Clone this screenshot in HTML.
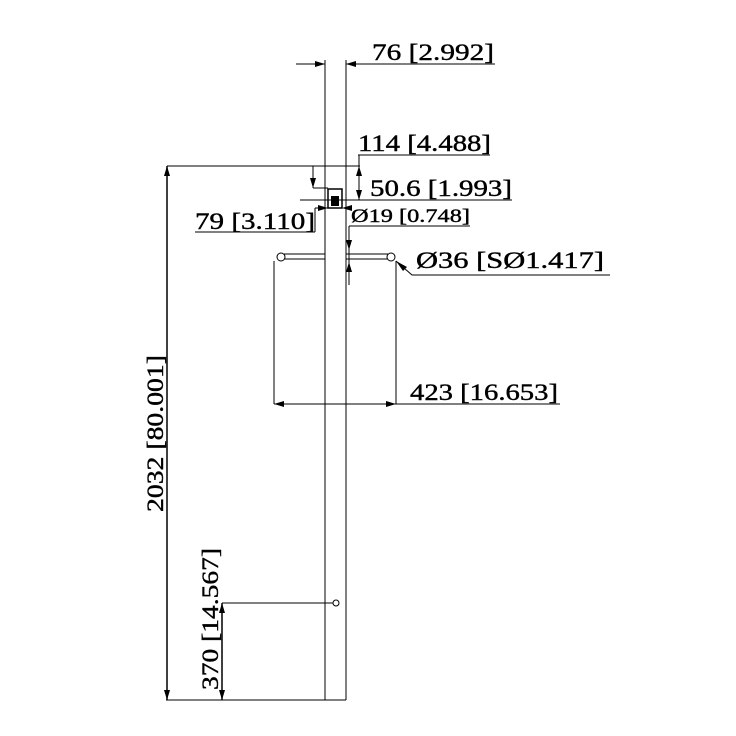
<!DOCTYPE html>
<html><head><style>html,body{margin:0;padding:0;background:#fff;}svg{display:block}</style></head>
<body>
<svg width="736" height="736" viewBox="0 0 736 736" xmlns="http://www.w3.org/2000/svg">
<g stroke="#000" fill="none" stroke-width="1">
<line x1="325" y1="60" x2="325" y2="700"/>
<line x1="346" y1="60" x2="346" y2="700"/>
<line x1="166" y1="700" x2="346" y2="700"/>
<line x1="296" y1="64" x2="325" y2="64"/>
<line x1="346" y1="64" x2="495" y2="64"/>
<line x1="167" y1="166" x2="360" y2="166"/>
<line x1="358" y1="155" x2="490" y2="155"/>
<line x1="359" y1="155" x2="359" y2="200"/>
<line x1="300" y1="200" x2="512" y2="200"/>
<line x1="313" y1="166" x2="313" y2="188"/>
<line x1="313" y1="188" x2="328" y2="188"/>
<line x1="315" y1="208" x2="342" y2="208"/>
<line x1="315" y1="208" x2="315" y2="232"/>
<line x1="195" y1="232" x2="315" y2="232"/>
<line x1="349" y1="226" x2="470" y2="226"/>
<line x1="349" y1="226" x2="349" y2="285"/>
<rect x="328" y="189" width="14" height="19" stroke-width="1.5"/>
<rect x="331" y="196" width="8" height="10" fill="#000" stroke="none"/>
<line x1="284" y1="254" x2="325" y2="254"/>
<line x1="284" y1="259" x2="325" y2="259"/>
<line x1="346" y1="254" x2="388" y2="254"/>
<line x1="346" y1="259" x2="388" y2="259"/>
<circle cx="281" cy="257" r="4"/>
<circle cx="391" cy="257" r="4"/>
<line x1="274" y1="261" x2="274" y2="404"/>
<line x1="396" y1="261" x2="396" y2="404"/>
<line x1="274" y1="404" x2="560" y2="404"/>
<polyline points="396,261 412,275 610,275"/>
<line x1="167" y1="166" x2="167" y2="700" stroke-width="1.5"/>
<line x1="222" y1="603" x2="333" y2="603"/>
<line x1="222" y1="603" x2="222" y2="700" stroke-width="1.5"/>
<circle cx="336" cy="603" r="3"/>
</g>
<g fill="#000">
<polygon points="325,64 315,61 315,67"/>
<polygon points="346,64 356,61 356,67"/>
<polygon points="313,188 310,178 316,178"/>
<polygon points="359,200 356,190 362,190"/>
<polygon points="359,166 356,176 362,176"/>
<polygon points="328,208 318,205 318,211"/>
<polygon points="342,208 352,205 352,211"/>
<polygon points="349,250 346,240 352,240"/>
<polygon points="349,262 346,272 352,272"/>
<polygon points="396,261 403,271 407,267"/>
<polygon points="274,404 284,401 284,407"/>
<polygon points="396,404 386,401 386,407"/>
<polygon points="167,166 164,176 170,176"/>
<polygon points="167,700 164,690 170,690"/>
<polygon points="222,603 219,613 225,613"/>
<polygon points="222,700 219,690 225,690"/>
</g>
<g fill="#000" font-size="23" stroke="#000" stroke-width="0.4" font-family="'Liberation Serif', 'Times New Roman', Times, serif">
<text x="372" y="60" textLength="122" lengthAdjust="spacingAndGlyphs">76 [2.992]</text>
<text x="358" y="151" textLength="133" lengthAdjust="spacingAndGlyphs">114 [4.488]</text>
<text x="370" y="196" textLength="142" lengthAdjust="spacingAndGlyphs">50.6 [1.993]</text>
<text x="195" y="229" textLength="120" lengthAdjust="spacingAndGlyphs">79 [3.110]</text>
<text x="351" y="222" font-size="19" textLength="119" lengthAdjust="spacingAndGlyphs">Ø19 [0.748]</text>
<text x="416" y="268" textLength="188" lengthAdjust="spacingAndGlyphs">Ø36 [SØ1.417]</text>
<text x="410" y="400" textLength="148" lengthAdjust="spacingAndGlyphs">423 [16.653]</text>
<text transform="translate(163,512) rotate(-90)" x="0" y="0" textLength="157" lengthAdjust="spacingAndGlyphs">2032 [80.001]</text>
<text transform="translate(218,690) rotate(-90)" x="0" y="0" textLength="142" lengthAdjust="spacingAndGlyphs">370 [14.567]</text>
</g>
</svg>
</body></html>
